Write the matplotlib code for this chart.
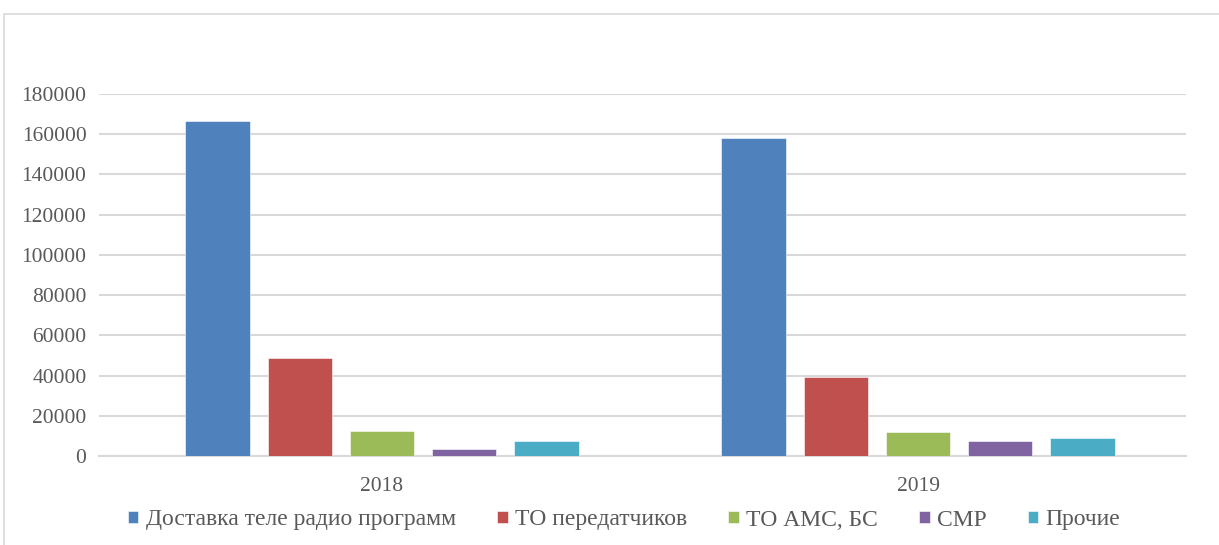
import matplotlib
matplotlib.use("Agg")
import matplotlib.pyplot as plt
import numpy as np
from matplotlib.patches import Rectangle

years = ["2018", "2019"]
series = ["Доставка теле радио программ", "ТО передатчиков", "ТО АМС, БС", "СМР", "Прочие"]
values = [
    [166700, 158100],
    [48900, 39100],
    [12400, 12100],
    [3300, 7600],
    [7300, 8800],
]
colors = ["#4F81BD", "#C0504D", "#9BBB59", "#8064A2", "#4BACC6"]
yticks = [0, 20000, 40000, 60000, 80000, 100000, 120000, 140000, 160000, 180000]

plt.rcParams['font.family'] = ['Liberation Serif', 'DejaVu Serif']

W, H = 1219, 545
fig = plt.figure(figsize=(W / 100, H / 100), dpi=100)

# chart frame
fig.patches.append(Rectangle((4 / W, -0.1), 1.2, (545 - 14) / H + 0.1, transform=fig.transFigure,
                             facecolor="none", edgecolor="#d9d9d9", linewidth=1.2))

ax = fig.add_axes([99 / W, (H - 456) / H, (1186 - 99) / W, (456 - 94) / H])
x = np.arange(len(years))
pitch = 0.1534
width = 0.1203
for i, (name, vals, c) in enumerate(zip(series, values, colors)):
    ax.bar(x + (i - 2) * pitch, vals, width, color=c, label=name, edgecolor="white", linewidth=0.4, zorder=3)

ax.set_xlim(-0.528, 1.5)
ax.set_ylim(0, 180000)
ax.set_yticks(yticks)
ax.set_yticklabels([str(v) for v in yticks])
ax.set_xticks(x)
ax.set_xticklabels(years)
ax.grid(axis="y", color="#d9d9d9", linewidth=1.5, zorder=0)
for s in ["top", "right", "left"]:
    ax.spines[s].set_visible(False)
ax.spines["bottom"].set_color("#d9d9d9")
ax.spines["bottom"].set_linewidth(1.5)
ax.tick_params(axis="both", length=0, labelsize=15.5, colors="#595959")
ax.tick_params(axis="y", pad=9)
ax.tick_params(axis="x", pad=15)

fig.legend(loc="center", bbox_to_anchor=(624 / W, 1 - 520 / H), ncol=5, frameon=False,
           fontsize=17, labelcolor="#595959", handlelength=0.45, handleheight=0.45,
           handletextpad=0.3, columnspacing=1.75)

fig.savefig("out.png", dpi=100)
